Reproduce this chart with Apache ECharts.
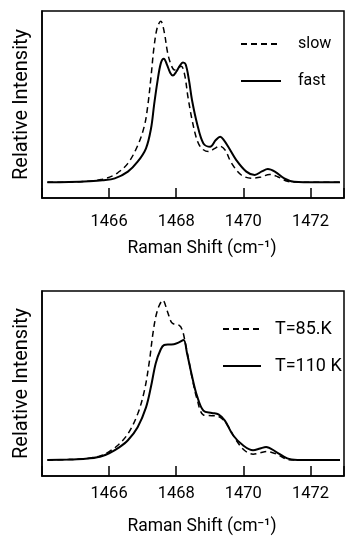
<!DOCTYPE html>
<html>
<head>
<meta charset="utf-8">
<script src="https://cdn.jsdelivr.net/npm/echarts@6/dist/echarts.min.js"></script>
<style>html,body{margin:0;padding:0;background:#fff}#c{width:347px;height:537px}</style>
</head>
<body>
<div id="c"></div>
<script>
// x-axis ticks
var tickValues = [1466, 1468, 1470, 1472];
var xTitle = 'Raman Shift (cm\u207B\u00B9)';
var yTitle = 'Relative Intensity';
var legendTop = ['slow', 'fast'];
var legendBottom = ['T=85.K', 'T=110 K'];

// Top panel: slow (dashed)
var slowX = [1464.16,1464.8,1465.4,1465.8,1466.1,1466.26,1466.56,1466.85,1467.05,1467.15,1467.25,1467.34,1467.44,1467.54,1467.64,1467.74,1467.84,1467.95,1468.05,1468.15,1468.25,1468.35,1468.47,1468.62,1468.76,1468.96,1469.15,1469.28,1469.45,1469.65,1469.94,1470.24,1470.53,1470.78,1471.02,1471.31,1471.6,1472.2,1472.88];
var slowY = [8.4,8.5,9.0,10.0,11.8,13.5,18.5,28.0,38.5,49,65,81,91.5,94.5,89,78,71.5,68.5,69.5,70.5,66,54,42,31,26.5,24.8,26.5,27.8,25.8,18.6,12.3,10.6,11.2,12.6,11.4,9.0,8.5,8.4,8.4];
// Top panel: fast (solid)
var fastX = [1464.16,1464.8,1465.4,1465.8,1466.17,1466.56,1466.85,1467.10,1467.25,1467.34,1467.44,1467.54,1467.63,1467.72,1467.82,1467.90,1468.00,1468.10,1468.20,1468.28,1468.38,1468.47,1468.62,1468.81,1469.01,1469.18,1469.31,1469.42,1469.55,1469.79,1470.09,1470.34,1470.55,1470.73,1470.95,1471.22,1471.51,1472.2,1472.88];
var fastY = [8.4,8.6,9.0,9.5,10.5,14.1,19.4,26.6,37.3,49.7,62.2,72.0,74.5,71.5,67,65.5,67.5,70.5,72.5,71.5,63,52.4,39.9,29.2,27.4,31,32.8,31,27.4,20.3,14.1,12.3,14.2,15.5,14.0,10.5,8.7,8.4,8.4];

// Bottom panel: T=85 K (dashed)
var t85X = [1464.16,1464.8,1465.3,1465.73,1466.0,1466.26,1466.56,1466.85,1467.05,1467.20,1467.30,1467.39,1467.49,1467.60,1467.74,1467.86,1467.98,1468.08,1468.18,1468.28,1468.37,1468.47,1468.62,1468.81,1469.06,1469.26,1469.50,1469.79,1470.03,1470.29,1470.50,1470.70,1471.02,1471.31,1471.6,1472.2,1472.88];
var t85Y = [8.6,8.9,9.4,10.8,13.2,16.6,22.8,33.5,46.0,62.0,76.3,86.0,92.0,95.0,88.8,83.0,81.8,81.5,79.0,71.0,62.9,53.3,41.6,33.0,32.6,32.2,28.2,19.3,13.9,11.8,12.5,13.2,11.6,8.9,8.6,8.6,8.6];
// Bottom panel: T=110 K (solid)
var t110X = [1464.16,1464.8,1465.3,1465.73,1466.0,1466.3,1466.56,1466.85,1467.10,1467.25,1467.39,1467.54,1467.64,1467.80,1467.93,1468.08,1468.22,1468.32,1468.47,1468.62,1468.81,1469.06,1469.26,1469.45,1469.70,1469.99,1470.29,1470.50,1470.68,1470.96,1471.31,1471.61,1472.2,1472.88];
var t110Y = [8.6,8.9,9.3,10.4,12.3,15.5,19.3,26.4,37.1,48.5,61.0,68.5,70.8,71.1,71.2,72.2,73.5,66.5,54.0,43.3,35.3,34.1,33.3,29.9,21.9,16.6,13.9,14.9,15.7,13.2,9.5,8.7,8.6,8.6];

function pairs(xs, ys) { return xs.map(function (x, i) { return [x, ys[i]]; }); }

var FONT = 'Roboto';
function xAxis(gi, labelMargin) {
  return {
    gridIndex: gi, type: 'value', min: 1464, max: 1473, interval: 2,
    axisLine: { show: true, lineStyle: { color: '#000', width: 1.5 } },
    axisTick: { show: true, inside: true, length: 10, lineStyle: { color: '#000', width: 1.5 } },
    splitLine: { show: false },
    axisLabel: {
      color: '#000', fontSize: 16.5, fontFamily: FONT, margin: labelMargin,
      formatter: function (v) { return tickValues.indexOf(v) >= 0 ? String(v) : ''; }
    },
    name: xTitle, nameLocation: 'middle', nameGap: 42,
    nameTextStyle: { color: '#000', fontSize: 17.5, fontFamily: FONT, padding: [0, 0, 0, 18] }
  };
}
function yAxis(gi) {
  return {
    gridIndex: gi, type: 'value', min: 0, max: 100,
    axisLine: { show: true, lineStyle: { color: '#000', width: 1.5 } },
    axisTick: { show: false }, axisLabel: { show: false }, splitLine: { show: false },
    name: yTitle, nameLocation: 'middle', nameGap: 10,
    nameTextStyle: { color: '#000', fontSize: 20, fontFamily: FONT }
  };
}
function line(name, data, gi, dashed) {
  return {
    type: 'line', name: name, data: data, xAxisIndex: gi, yAxisIndex: gi,
    symbol: 'none', showSymbol: false, smooth: 0.35, silent: true, color: '#000',
    itemStyle: { color: '#000', opacity: 0 },
    lineStyle: dashed ? { color: '#000', width: 1.5, type: [6, 4] } : { color: '#000', width: 2 }
  };
}

var chart = echarts.init(document.getElementById('c'), null, { renderer: 'canvas' });
chart.setOption({
  backgroundColor: '#fff',
  animation: false,
  grid: [
    { left: 42, top: 11, width: 304, height: 187, show: true, borderColor: '#000', borderWidth: 1.5 },
    { left: 42, top: 291, width: 304, height: 187, show: true, borderColor: '#000', borderWidth: 1.5 }
  ],
  xAxis: [xAxis(0, 15), xAxis(1, 9)],
  yAxis: [yAxis(0), yAxis(1)],
  legend: [
    { data: legendTop, orient: 'vertical', left: 240, top: 36, padding: 0, itemWidth: 40, itemHeight: 14, itemGap: 21,
      itemStyle: { opacity: 0 },
      textStyle: { color: '#000', fontSize: 16, fontFamily: FONT, padding: [0, 0, 0, 12] }, selectedMode: false },
    { data: legendBottom, orient: 'vertical', left: 222, top: 320, padding: 0, itemWidth: 38, itemHeight: 14, itemGap: 19,
      itemStyle: { opacity: 0 },
      textStyle: { color: '#000', fontSize: 18, fontFamily: FONT, padding: [0, 0, 0, 9] }, selectedMode: false }
  ],
  series: [
    line('slow', pairs(slowX, slowY), 0, true),
    line('fast', pairs(fastX, fastY), 0, false),
    line('T=85.K', pairs(t85X, t85Y), 1, true),
    line('T=110 K', pairs(t110X, t110Y), 1, false)
  ]
});
</script>
</body>
</html>
